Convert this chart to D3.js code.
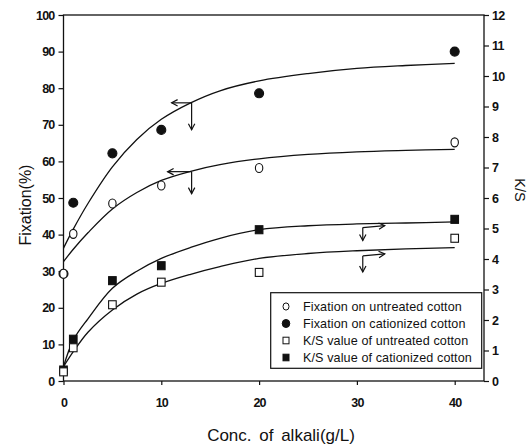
<!DOCTYPE html>
<html><head><meta charset="utf-8">
<script src="https://cdn.jsdelivr.net/npm/d3@7/dist/d3.min.js"></script>
<style>body{margin:0;background:#fff}svg{display:block}</style>
</head><body>
<script>
// ---- data ----
const concX = [0, 1, 5, 10, 20, 40];
const fixUntreated = [29.3, 40.2, 48.5, 53.4, 58.2, 65.2];
const fixCationized = [29.3, 48.7, 62.2, 68.6, 78.6, 90.0];
const ksUntreated = [0.30, 1.09, 2.50, 3.24, 3.56, 4.68];
const ksCationized = [0.36, 1.37, 3.29, 3.78, 4.96, 5.30];

const fitX = [0, 1, 2.5, 5, 7.5, 10, 13, 16, 20, 25, 30, 35, 40];
const fitFixCationized = [36.3, 41.5, 48.5, 58.5, 66, 71.5, 76, 79.3, 82, 84, 85.4, 86.2, 86.8];
const fitFixUntreated = [32.6, 36, 40.5, 47, 51.5, 54.8, 57.3, 59.1, 60.7, 61.9, 62.6, 63, 63.3];
const fitKsCationized = [0.47, 1.34, 2.04, 3.04, 3.6, 4.02, 4.38, 4.68, 4.96, 5.09, 5.15, 5.18, 5.22];
const fitKsUntreated = [0.47, 0.96, 1.6, 2.33, 2.85, 3.2, 3.5, 3.75, 4.02, 4.18, 4.27, 4.33, 4.37];

const xTicks = [0, 10, 20, 30, 40];
const yLeftTicks = [0, 10, 20, 30, 40, 50, 60, 70, 80, 90, 100];
const yRightTicks = [0, 1, 2, 3, 4, 5, 6, 7, 8, 9, 10, 11, 12];

const legendLabels = ["Fixation on untreated cotton", "Fixation on cationized cotton",
  "K/S value of untreated cotton", "K/S value of cationized cotton"];
// arrows: [x, value]
const arrowFixCat = [13.1, 76.0];
const arrowFixUnt = [13.1, 57.2];
const arrowKsCat = [30.6, 5.03];
const arrowKsUnt = [30.6, 4.10];

// ---- layout ----
const W = 531, H = 446;
const L = 63.5, R = 484, T = 15, B = 381;
const svg = d3.select("body").append("svg").attr("width", W).attr("height", H);
svg.append("rect").attr("width", W).attr("height", H).attr("fill", "#fff");

const x = d3.scaleLinear().domain([0, 43]).range([L, L + 43 * 9.78]);
const yL = d3.scaleLinear().domain([0, 100]).range([B, T]);
const yR = d3.scaleLinear().domain([0, 12]).range([B, T]);
const ink = "#111";
const font = "'Liberation Sans', Arial, sans-serif";

// frame
svg.append("rect").attr("x", L).attr("y", T).attr("width", R - L).attr("height", B - T)
  .attr("fill", "none").attr("stroke", ink).attr("stroke-width", 1.3);

// axes
const axB = d3.axisBottom(x).tickValues(xTicks).tickSize(4).tickPadding(13).tickFormat(d3.format("d"));
const axL = d3.axisLeft(yL).tickValues(yLeftTicks).tickSize(5).tickPadding(4);
const axR = d3.axisRight(yR).tickValues(yRightTicks).tickSize(5).tickPadding(3);
function style(g){
  g.select(".domain").remove();
  g.selectAll("line").attr("stroke", ink).attr("stroke-width", 1.2);
  g.selectAll("text").attr("fill", ink).attr("font-family", font).attr("font-size", 12.5)
    .attr("font-weight", "bold").attr("letter-spacing", "-0.8px");
}
svg.append("g").attr("transform", `translate(0,${B})`).call(axB).call(style);
svg.append("g").attr("transform", `translate(${L},0)`).call(axL).call(style);
svg.append("g").attr("transform", `translate(${R},0)`).call(axR).call(style);

// axis titles
svg.append("text").attr("x", 281).attr("y", 441).attr("text-anchor", "middle")
  .attr("font-family", font).attr("font-size", 17).attr("word-spacing", "3px")
  .attr("fill", ink).text("Conc. of alkali(g/L)");
svg.append("text").attr("transform", "translate(31,205) rotate(-90)").attr("text-anchor", "middle")
  .attr("font-family", font).attr("font-size", 16).attr("fill", ink).text("Fixation(%)");
svg.append("text").attr("transform", "translate(515,190) rotate(90)").attr("text-anchor", "middle")
  .attr("font-family", font).attr("font-size", 14.5).attr("fill", ink).text("K/S");

// fitted curves
const lineL = d3.line().x(d => x(d[0])).y(d => yL(d[1])).curve(d3.curveCatmullRom);
const lineR = d3.line().x(d => x(d[0])).y(d => yR(d[1])).curve(d3.curveCatmullRom);
[[fitFixCationized, lineL], [fitFixUntreated, lineL], [fitKsCationized, lineR], [fitKsUntreated, lineR]]
  .forEach(([arr, ln]) => {
    svg.append("path").attr("d", ln(fitX.map((v, i) => [v, arr[i]])))
      .attr("fill", "none").attr("stroke", ink).attr("stroke-width", 1.3);
  });

// arrows
function arrow(px, py, dx, dy) {
  const g = svg.append("g").attr("stroke", ink).attr("stroke-width", 1.2).attr("fill", "none");
  g.append("line").attr("x1", px).attr("y1", py).attr("x2", px + dx).attr("y2", py + dy);
  const len = Math.hypot(dx, dy), ux = dx / len, uy = dy / len;
  const hx = px + dx, hy = py + dy, a = 6, w = 3.2;
  g.append("path").attr("d",
    `M${hx - ux * a - uy * w},${hy - uy * a + ux * w}L${hx},${hy}L${hx - ux * a + uy * w},${hy - uy * a - ux * w}`);
}
arrow(x(arrowFixCat[0]), yL(arrowFixCat[1]), -20, 0);
arrow(x(arrowFixCat[0]), yL(arrowFixCat[1]), 0, 27);
arrow(x(arrowFixUnt[0]), yL(arrowFixUnt[1]), -24, 0);
arrow(x(arrowFixUnt[0]), yL(arrowFixUnt[1]), 0, 22);
arrow(x(arrowKsCat[0]), yR(arrowKsCat[1]), 22, -2);
arrow(x(arrowKsCat[0]), yR(arrowKsCat[1]), 0, 13);
arrow(x(arrowKsUnt[0]), yR(arrowKsUnt[1]), 22, -2);
arrow(x(arrowKsUnt[0]), yR(arrowKsUnt[1]), 0, 16);

// markers
function circles(vals, filled) {
  svg.append("g").selectAll("ellipse").data(vals).join("ellipse")
    .attr("cx", (d, i) => x(concX[i])).attr("cy", d => yL(d))
    .attr("rx", filled ? 4.5 : 3.7).attr("ry", 4.5)
    .attr("fill", filled ? ink : "#fff").attr("stroke", ink).attr("stroke-width", 1.1);
}
function squares(vals, filled) {
  svg.append("g").selectAll("rect").data(vals).join("rect")
    .attr("x", (d, i) => x(concX[i]) - 3.8).attr("y", d => yR(d) - 4)
    .attr("width", 7.6).attr("height", 8)
    .attr("fill", filled ? ink : "#fff").attr("stroke", ink).attr("stroke-width", 1.1);
}
circles(fixCationized, true);
circles(fixUntreated, false);
squares(ksCationized, true);
squares(ksUntreated, false);

// legend
svg.append("rect").attr("x", 270.7).attr("y", 292.7).attr("width", 211).attr("height", 75.6)
  .attr("fill", "#fff").attr("stroke", ink).attr("stroke-width", 1.2);
const rowY = [306.5, 323.5, 340.5, 357.5];
legendLabels.forEach((t, i) => {
  const cy = rowY[i], cx = 286;
  if (i < 2) {
    svg.append("ellipse").attr("cx", cx).attr("cy", cy).attr("rx", i ? 3.8 : 3).attr("ry", i ? 4 : 3.6)
      .attr("fill", i ? ink : "#fff").attr("stroke", ink).attr("stroke-width", 1);
  } else {
    svg.append("rect").attr("x", cx - 3).attr("y", cy - 3.3).attr("width", 6).attr("height", 6.6)
      .attr("fill", i === 3 ? ink : "#fff").attr("stroke", ink).attr("stroke-width", 1);
  }
  svg.append("text").attr("x", 303).attr("y", cy + 4.2).attr("font-family", font)
    .attr("font-size", 12.6).attr("letter-spacing", "0.1px").attr("fill", ink).text(t);
});
</script>
</body></html>
